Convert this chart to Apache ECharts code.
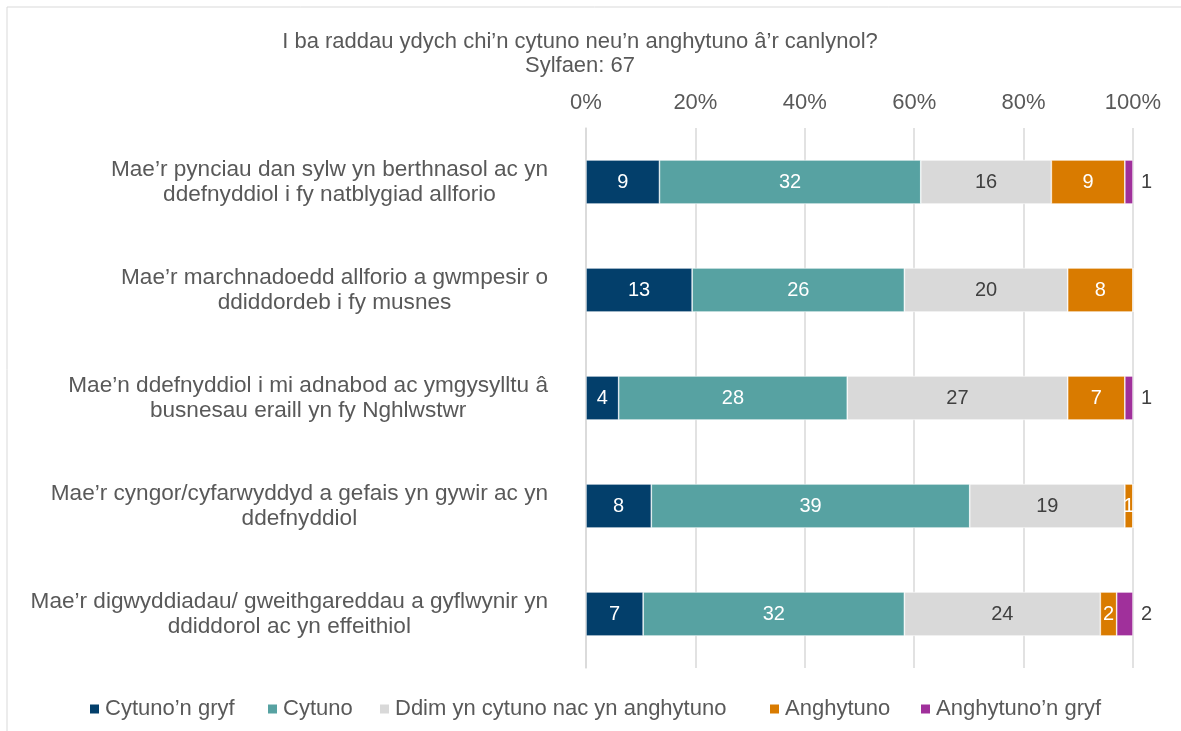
<!DOCTYPE html>
<html>
<head>
<meta charset="utf-8">
<title>Sylfaen: 67</title>
<script src="https://cdn.jsdelivr.net/npm/echarts@6/dist/echarts.min.js"></script>
<style>
  html, body { margin: 0; padding: 0; background: #fff; }
  #chart { width: 1181px; height: 731px; }
</style>
</head>
<body>
<div id="chart"></div>
<script>
// statements, top to bottom
const categories = [
  "Mae’r pynciau dan sylw yn berthnasol ac yn\nddefnyddiol i fy natblygiad allforio",
  "Mae’r marchnadoedd allforio a gwmpesir o\nddiddordeb i fy musnes",
  "Mae’n ddefnyddiol i mi adnabod ac ymgysylltu â\nbusnesau eraill yn fy Nghlwstwr",
  "Mae’r cyngor/cyfarwyddyd a gefais yn gywir ac yn\nddefnyddiol",
  "Mae’r digwyddiadau/ gweithgareddau a gyflwynir yn\nddiddorol ac yn effeithiol"
];

// counts of respondents (base 67)
const cytunoGryf = [9, 13, 4, 8, 7];
const cytuno = [32, 26, 28, 39, 32];
const ddim = [16, 20, 27, 19, 24];
const anghytuno = [9, 8, 7, 1, 2];
const anghytunoGryf = [1, 0, 1, 0, 2];

const seriesNames = [
  "Cytuno’n gryf",
  "Cytuno",
  "Ddim yn cytuno nac yn anghytuno",
  "Anghytuno",
  "Anghytuno’n gryf"
];
const seriesCounts = [cytunoGryf, cytuno, ddim, anghytuno, anghytunoGryf];
const colors = ["#033F6B", "#57A2A2", "#D9D9D9", "#D97B00", "#A0309B"];
const base = 67;

const tickValues = [0, 20, 40, 60, 80, 100];
const textColor = "#595959";
const font = "Liberation Sans, Arial, sans-serif";

const chart = echarts.init(document.getElementById("chart"));

const series = seriesCounts.map((counts, i) => ({
  name: seriesNames[i],
  type: "bar",
  stack: "total",
  barWidth: 44,
  data: counts.map(c => (c / base) * 100),
  itemStyle: { color: colors[i], borderColor: "#fff", borderWidth: 0.6 },
  label: {
    show: true,
    position: i === 4 ? "right" : "inside",
    distance: 8,
    fontFamily: font,
    fontSize: 20,
    color: i === 2 || i === 4 ? "#404040" : "#fff",
    formatter: p => (counts[p.dataIndex] > 0 ? String(counts[p.dataIndex]) : "")
  },
  emphasis: { disabled: true }
}));

// legend positions copied from the reference layout
const legendLeft = [88, 266, 378, 768, 919];
const legends = seriesNames.map((n, i) => ({
  data: [n],
  left: legendLeft[i],
  top: 698,
  padding: 0,
  icon: "rect",
  itemWidth: 11,
  itemHeight: 11,
  itemGap: 5,
  selectedMode: false,
  textStyle: { color: textColor, fontSize: 22, fontFamily: font }
}));

const option = {
  animation: false,
  textStyle: { fontFamily: font },
  title: {
    text: "I ba raddau ydych chi’n cytuno neu’n anghytuno â’r canlynol?\nSylfaen: 67",
    left: 580,
    textAlign: "center",
    top: 30,
    padding: 0,
    textStyle: { color: textColor, fontSize: 22, fontWeight: "normal", lineHeight: 24, fontFamily: font }
  },
  graphic: [{
    type: "rect",
    shape: { x: 7, y: 7, width: 1200, height: 800 },
    style: { fill: "none", stroke: "#D9D9D9", lineWidth: 1 },
    silent: true
  }],
  legend: legends,
  grid: { left: 586, right: 48, top: 128, bottom: 63 },
  xAxis: {
    type: "value",
    position: "top",
    min: 0,
    max: 100,
    interval: 20,
    axisLine: { show: false },
    axisTick: { show: false },
    splitLine: { lineStyle: { color: "#D9D9D9", width: 1.5 } },
    axisLabel: {
      color: textColor,
      fontSize: 22,
      fontFamily: font,
      margin: 14,
      formatter: v => (tickValues.includes(v) ? v + "%" : "")
    }
  },
  yAxis: {
    type: "category",
    inverse: true,
    data: categories,
    axisLine: { lineStyle: { color: "#D9D9D9", width: 1.5 } },
    axisTick: { show: false },
    axisLabel: {
      margin: 38,
      align: "right",
      formatter: v => v.split("\n").map(l => "{c|" + l + "}").join("\n"),
      rich: {
        c: {
          align: "center",
          color: textColor,
          fontSize: 22.6,
          fontFamily: font,
          lineHeight: 25
        }
      }
    }
  },
  series: series
};

chart.setOption(option);
</script>
</body>
</html>
